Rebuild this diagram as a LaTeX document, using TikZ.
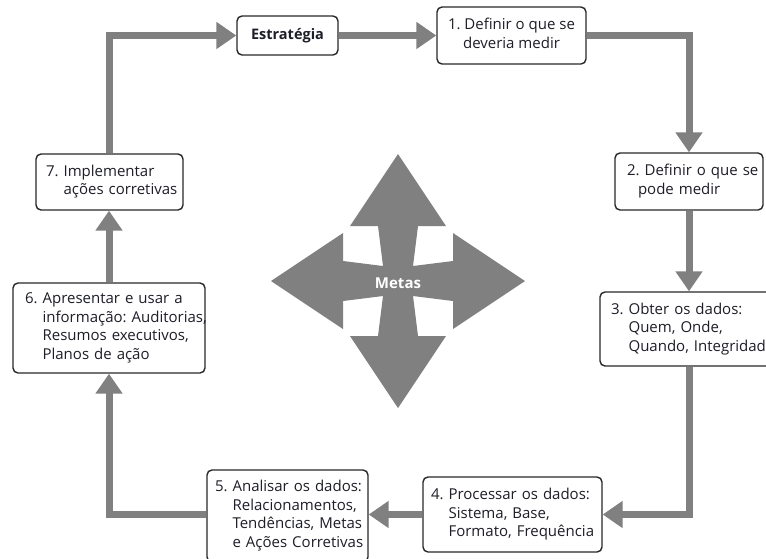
\documentclass[tikz,border=0pt]{standalone}
\usepackage{fontspec}
\setmainfont{Open Sans}
\usetikzlibrary{arrows.meta}

\definecolor{flow}{RGB}{128,128,128}
\definecolor{ink}{RGB}{30,30,40}
\definecolor{frame}{RGB}{40,40,40}

% step text: lines set as given, continuation lines hang under the words
\newcommand{\hg}[1]{\hphantom{#1.\ }}
\newcommand{\lines}[1]{\begin{tabular}{@{}l@{}}#1\end{tabular}}
\newcommand{\clines}[1]{\begin{tabular}{@{}c@{}}#1\end{tabular}}

\tikzset{
  stepbox/.style={draw=frame, line width=1.4pt, rounded corners=5pt, fill=white,
    text=ink, font=\fontsize{15}{18.5}\selectfont\frenchspacing, align=left, inner ysep=0pt},
  flowline/.style={draw=flow, line width=7pt,
    -{Triangle[length=20pt, width=26pt]}},
}

\begin{document}
\begin{tikzpicture}[x=1pt, y=-1pt]
  \clip (0,0) rectangle (766,558);
  \fill[white] (0,0) rectangle (766,558);

  % process steps
  \node[stepbox, align=center, inner xsep=0pt, minimum width=101pt, minimum height=39pt,
        font=\fontsize{14.5}{18}\selectfont\bfseries]
    (estr) at (287.5,35.5) {Estratégia};
  \node[stepbox, align=center, inner xsep=0pt, minimum width=149pt, minimum height=57pt]
    (b1) at (511.5,35.5) {\clines{1. Definir o que se\\deveria medir}};
  \node[stepbox, text width=124pt, inner xsep=12pt, minimum height=57pt]
    (b2) at (689,181.5) {\lines{2. Definir o que se\\\hspace*{11pt}pode medir}};
  \node[stepbox, text width=168pt, inner xsep=11pt, minimum height=74pt]
    (b3) at (695,329) {\lines{3. Obter os dados:\\\hg{3}Quem, Onde,\\\hg{3}Quando, Integridade}};
  \node[stepbox, text width=163pt, inner xsep=8pt, minimum height=75pt]
    (b4) at (512.5,514.5) {\lines{4. Processar os dados:\\\hg{4}Sistema, Base,\\\hg{4}Formato, Frequência}};
  \node[stepbox, text width=145pt, inner xsep=8pt, minimum height=92pt]
    (b5) at (287.5,516) {\lines{5. Analisar os dados:\\\hg{5}Relacionamentos,\\\hg{5}Tendências, Metas\\\hg{5}e Ações Corretivas}};
  \node[stepbox, text width=168pt, inner xsep=12pt, minimum height=90pt]
    (b6) at (109,328) {\lines{6. Apresentar e usar a\\\hg{6}informação: Auditorias,\\\hg{6}Resumos executivos,\\\hg{6}Planos de ação}};
  \node[stepbox, text width=127pt, inner xsep=10pt, minimum height=56pt]
    (b7) at (109.5,182) {\lines{7. Implementar\\\hg{7}ações corretivas}};

  % cycle connectors
  \draw[flowline] (b7.north) |- (estr.west);
  \draw[flowline] (estr.east) -- (b1.west);
  \draw[flowline] (b1.east) -| (b2.north);
  \draw[flowline] (b2.south) -- (b2.south |- b3.north);
  \draw[flowline] (b2.south |- b3.south) |- (b4.east);
  \draw[flowline] (b4.west) -- (b5.east |- b4.west);
  \draw[flowline] (b5.west |- b4.west) -| (b6.south);
  \draw[flowline] (b6.north) -- (b6.north |- b7.south);

  % central four-way arrow
  \coordinate (c) at (398,281);
  \fill[flow, shift={(c)}]
    (0,-127) -- (48,-55) -- (20,-55) -- (15,-15) -- (55,-20) -- (55,-48)
    -- (127,0) -- (55,48) -- (55,20) -- (15,15) -- (20,55) -- (48,55)
    -- (0,127) -- (-48,55) -- (-20,55) -- (-15,15) -- (-55,20) -- (-55,48)
    -- (-127,0) -- (-55,-48) -- (-55,-20) -- (-15,-15) -- (-20,-55) -- (-48,-55)
    -- cycle;
  \node[text=white, font=\fontsize{15}{18}\selectfont\bfseries] (metas) at (398,283) {Metas};
\end{tikzpicture}
\end{document}
